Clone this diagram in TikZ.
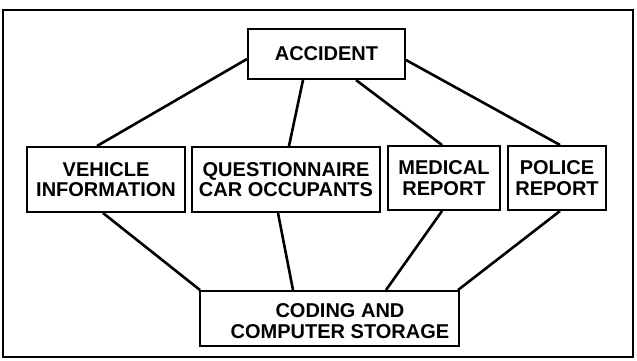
\documentclass[tikz,border=0pt]{standalone}
\usepackage{fontspec}
\setmainfont{Liberation Sans}
\begin{document}
\begin{tikzpicture}[x=1pt,y=-1pt,
  lbl/.style={font=\fontsize{20}{20.5}\selectfont\bfseries,align=center,inner sep=0pt},
  box/.style={lbl,draw=black,line width=2pt,fill=white},
  link/.style={draw=black,line width=2.6pt}]
\useasboundingbox (0,0) rectangle (637,360);
\fill[white] (0,0) rectangle (637,360);
\draw[line width=2.2pt] (3,10) rectangle (633,357);
% nodes
\node[box,minimum width=157pt,minimum height=50pt] (acc) at (326.5,54) {ACCIDENT};
\node[box,minimum width=158pt,minimum height=65pt] (veh) at (106,179.5) {VEHICLE\\INFORMATION};
\node[box,minimum width=188pt,minimum height=65pt] (qst) at (286,179.5) {QUESTIONNAIRE\\CAR OCCUPANTS};
\node[box,minimum width=112pt,minimum height=64pt] (med) at (444,178) {MEDICAL\\REPORT};
\node[box,minimum width=98pt,minimum height=64pt] (pol) at (557,178) {POLICE\\REPORT};
\node[box,minimum width=259pt,minimum height=55pt] (bot) at (329.5,318.5) {};
\node[lbl] (bottxt) at (340,321) {CODING AND\\COMPUTER STORAGE};
% connectors
\path[link] ([yshift=-5pt]acc.west) -- ([xshift=-9pt]veh.north);
\path[link] ([xshift=-23.5pt]acc.south) -- ([xshift=3pt]qst.north);
\path[link] ([xshift=29.5pt]acc.south) -- ([xshift=-2pt]med.north);
\path[link] ([yshift=-6pt]acc.east) -- ([xshift=3pt]pol.north);
\path[link] ([xshift=-3pt]veh.south) -- ([xshift=1pt]bot.north west);
\path[link] ([xshift=-8pt]qst.south) -- ([xshift=-36.5pt]bot.north);
\path[link] ([xshift=-2pt]med.south) -- ([xshift=56.5pt]bot.north);
\path[link] ([xshift=3pt]pol.south) -- ([xshift=-2pt]bot.north east);
\end{tikzpicture}
\end{document}
